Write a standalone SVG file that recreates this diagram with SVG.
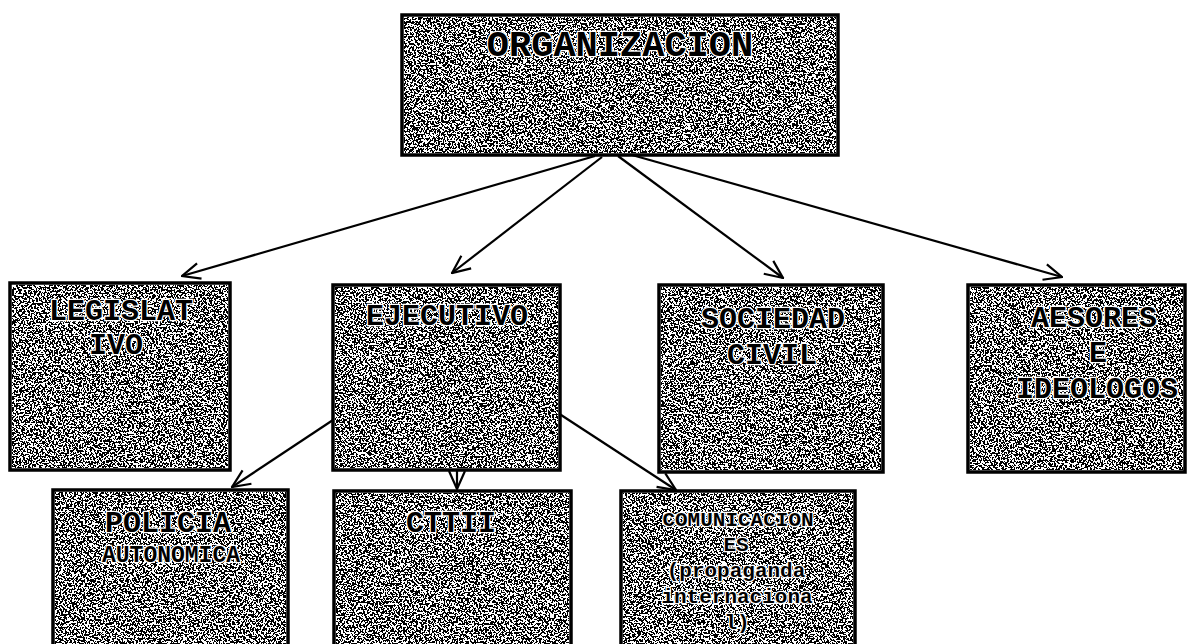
<svg xmlns="http://www.w3.org/2000/svg" width="1187" height="644" viewBox="0 0 1187 644">
<style>
.box{fill:#ffffff;stroke:#000;stroke-width:3.5}
.tex{fill:#000;filter:url(#grain)}
.t{font-family:"Liberation Mono","DejaVu Sans Mono",monospace;font-weight:bold;fill:#000;stroke:#fff;stroke-width:2.5;paint-order:stroke;text-anchor:middle}
.big{font-size:30px}
.org{font-size:37px}
.sm{font-size:23px}
.xs{font-size:21px}
.conn line{stroke:#000;stroke-width:2.2;fill:none;marker-end:url(#arr)}
</style>
<defs>
<filter id="grain" x="0" y="0" width="1" height="1" color-interpolation-filters="sRGB">
<feTurbulence type="fractalNoise" baseFrequency="0.55" numOctaves="2" seed="7" result="n"/>
<feColorMatrix in="n" type="matrix" values="0 0 0 0 0  0 0 0 0 0  0 0 0 0 0  1 0 0 0 0" result="a"/>
<feComponentTransfer in="a" result="b"><feFuncA type="discrete" tableValues="0 0 0 0 0 0 0 0 0 0 1 1 1 1 1 1 1 1 1 1"/></feComponentTransfer>
<feComposite in="b" in2="SourceAlpha" operator="in"/>
</filter>
<marker id="arr" viewBox="0 0 20 20" refX="19" refY="10" markerWidth="20" markerHeight="20" markerUnits="userSpaceOnUse" orient="auto">
<path d="M1,2 L19,10 L1,18" fill="none" stroke="#000" stroke-width="2.2"/>
</marker>
</defs>
<g id="connectors" class="conn">
<line x1="595" y1="156" x2="182" y2="276"/>
<line x1="602" y1="157" x2="452" y2="273"/>
<line x1="618" y1="156" x2="783" y2="278"/>
<line x1="632" y1="155" x2="1062" y2="277"/>
<line x1="333" y1="420" x2="232" y2="487"/>
<line x1="457" y1="470" x2="457" y2="489"/>
<line x1="558" y1="413" x2="676" y2="490"/>
</g>
<g id="n-organizacion">
<rect class="box" x="402" y="15" width="436" height="140"/>
<rect class="tex" x="404" y="17" width="432" height="136"/>
<text class="t org" x="620" y="56">ORGANIZACION</text>
</g>
<g id="n-legislativo">
<rect class="box" x="10" y="283" width="220" height="187"/>
<rect class="tex" x="12" y="285" width="216" height="183"/>
<text class="t big" x="121" y="320">LEGISLAT</text>
<text class="t big" x="116" y="354">IVO</text>
</g>
<g id="n-ejecutivo">
<rect class="box" x="333" y="285" width="227" height="185"/>
<rect class="tex" x="335" y="287" width="223" height="181"/>
<text class="t big" x="447" y="325">EJECUTIVO</text>
</g>
<g id="n-sociedad">
<rect class="box" x="659" y="285" width="224" height="187"/>
<rect class="tex" x="661" y="287" width="220" height="183"/>
<text class="t big" x="773" y="328">SOCIEDAD</text>
<text class="t big" x="772" y="364">CIVIL</text>
</g>
<g id="n-aesores">
<rect class="box" x="968" y="285" width="217" height="187"/>
<rect class="tex" x="970" y="287" width="213" height="183"/>
<text class="t big" x="1094" y="327">AESORES</text>
<text class="t big" x="1098" y="362">E</text>
<text class="t big" x="1097" y="398">IDEOLOGOS</text>
</g>
<g id="n-policia">
<rect class="box" x="53" y="490" width="235" height="170"/>
<rect class="tex" x="55" y="492" width="231" height="166"/>
<text class="t big" x="168" y="532">POLICIA</text>
<text class="t sm" x="171" y="562">AUTONOMICA</text>
</g>
<g id="n-cttii">
<rect class="box" x="334" y="491" width="237" height="170"/>
<rect class="tex" x="336" y="493" width="233" height="166"/>
<text class="t big" x="451" y="532">CTTII</text>
</g>
<g id="n-comunicaciones">
<rect class="box" x="621" y="491" width="234" height="170"/>
<rect class="tex" x="623" y="493" width="230" height="166"/>
<text class="t xs" x="738" y="526">COMUNICACION</text>
<text class="t xs" x="736" y="551">ES</text>
<text class="t xs" x="736" y="577">(propaganda</text>
<text class="t xs" x="737" y="603">internaciona</text>
<text class="t xs" x="737" y="629">l)</text>
</g>
</svg>
